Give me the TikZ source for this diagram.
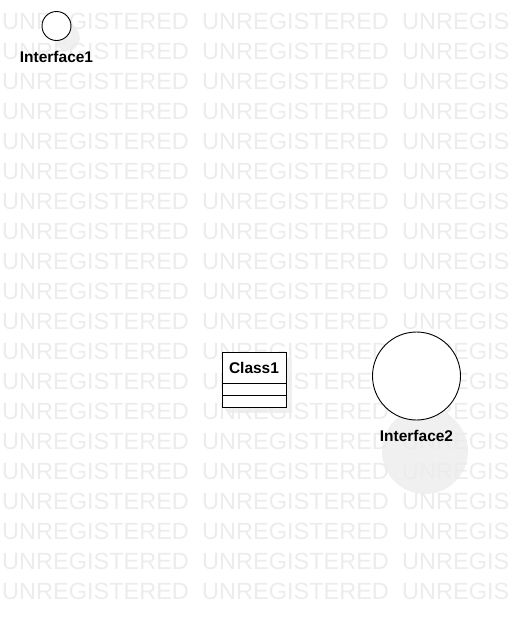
\documentclass[tikz,border=0pt]{standalone}
\usepackage{fontspec}
\setmainfont{Liberation Sans}
\usetikzlibrary{positioning}
\definecolor{wmgray}{RGB}{236,236,236}
\definecolor{shadowgray}{RGB}{240,240,240}
\tikzset{
  watermark/.style={anchor=west, inner sep=0pt, text=wmgray,
    font=\fontsize{23.5}{28}\selectfont},
  lollipop/.style={circle, draw=black, fill=white, line width=0.9pt,
    inner sep=0pt, outer sep=0pt},
  ifacelabel/.style={inner sep=0pt, font=\fontsize{15.5}{18}\selectfont\bfseries},
  classhead/.style={rectangle, draw=black, fill=white, line width=0.9pt,
    minimum width=64pt, minimum height=31pt, inner sep=0pt, outer sep=0pt,
    font=\fontsize{15.5}{18}\selectfont\bfseries},
  classcomp/.style={rectangle, draw=black, fill=white, line width=0.9pt,
    minimum width=64pt, minimum height=12pt, inner sep=0pt, outer sep=0pt},
  shadow/.style={fill=shadowgray},
}
\begin{document}
\begin{tikzpicture}[x=1pt, y=-1pt]
  \useasboundingbox (0,0) rectangle (510,622);
  % shadows
  \fill[shadow] (67,38) circle (13);
  \fill[shadow] (425,451) circle (43);
  \fill[shadow] (228,358) rectangle (292,413);
  % watermark
  \begin{scope}
    \clip (0,0) rectangle (510,622);
    \foreach \row in {0,...,19}
      \foreach \col in {0,1,2}
        \node[watermark] at (\col*200+2, 21+\row*30) {UNREGISTERED};
  \end{scope}
  % Interface1
  \node[lollipop, minimum size=29pt] (iface1) at (56.5,26) {};
  \node[ifacelabel, below=11pt of iface1] (iface1lbl) {Interface1};
  % Class1
  \node[classhead] (cls1) at (254,367.5) {Class1};
  \node[classcomp, below=0pt of cls1] (cls1attr) {};
  \node[classcomp, below=0pt of cls1attr] (cls1ops) {};
  % Interface2
  \node[lollipop, minimum size=88pt] (iface2) at (416.5,376) {};
  \node[ifacelabel, below=10.5pt of iface2] (iface2lbl) {Interface2};
\end{tikzpicture}
\end{document}
